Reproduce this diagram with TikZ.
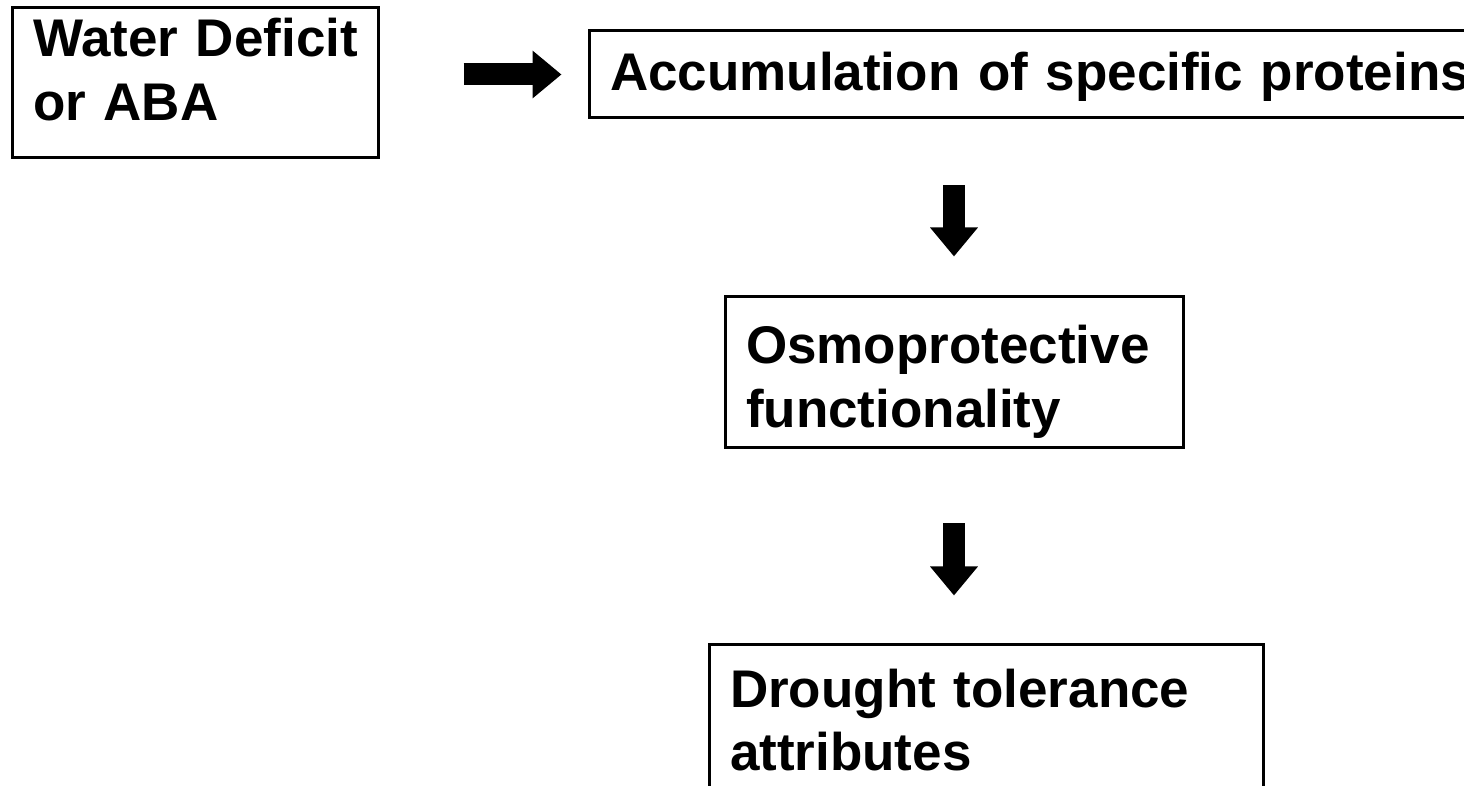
\documentclass[tikz,border=0pt]{standalone}
\usepackage{fontspec}
\setmainfont{Liberation Sans}
\usepackage{tikz}
\usetikzlibrary{arrows.meta, positioning}

\begin{document}
\begin{tikzpicture}[
  x=0.5pt, y=-0.5pt,
  box/.style={rectangle, draw, line width=1.5pt, align=left, inner xsep=10.5pt, font=\bfseries\fontsize{26.5pt}{32pt}\selectfont},
  bigarrow/.style={line width=11pt, -{Triangle[length=14.5pt, width=23pt]}}
]
  \useasboundingbox (0,0) rectangle (1464,786);
  \clip (0,0) rectangle (1464,786);
  \node[box, text width=162pt, minimum height=75pt, text height=20pt, text depth=46pt] (water) at (195,83) {Water~Deficit\\or ABA};
  \node[box, text width=440pt, minimum height=43.5pt, text height=20pt, text depth=3.5pt, right=104pt of water.east, yshift=4.25pt] (acc) {Accumulation of specific proteins};
  \node[box, text width=208pt, minimum height=75.5pt, text height=20pt, text depth=28.5pt] (osmo) at (954,372.5) {Osmoprotective\\functionality};
  \node[box, text width=256pt, minimum height=88pt, text height=15pt, text depth=40pt, below=96.5pt of osmo.south west, anchor=north west, xshift=-8pt] (drought) {Drought tolerance\\attributes};

  \draw[bigarrow, shorten <=42pt, shorten >=13pt] (water.east |- acc.west) -- (acc.west);
  \draw[bigarrow, shorten <=33pt, shorten >=19.5pt] (acc.south -| osmo.north) -- (osmo.north);
  \draw[bigarrow, shorten <=37pt, shorten >=23.5pt] (osmo.south) -- (osmo.south |- drought.north);
\end{tikzpicture}
\end{document}
